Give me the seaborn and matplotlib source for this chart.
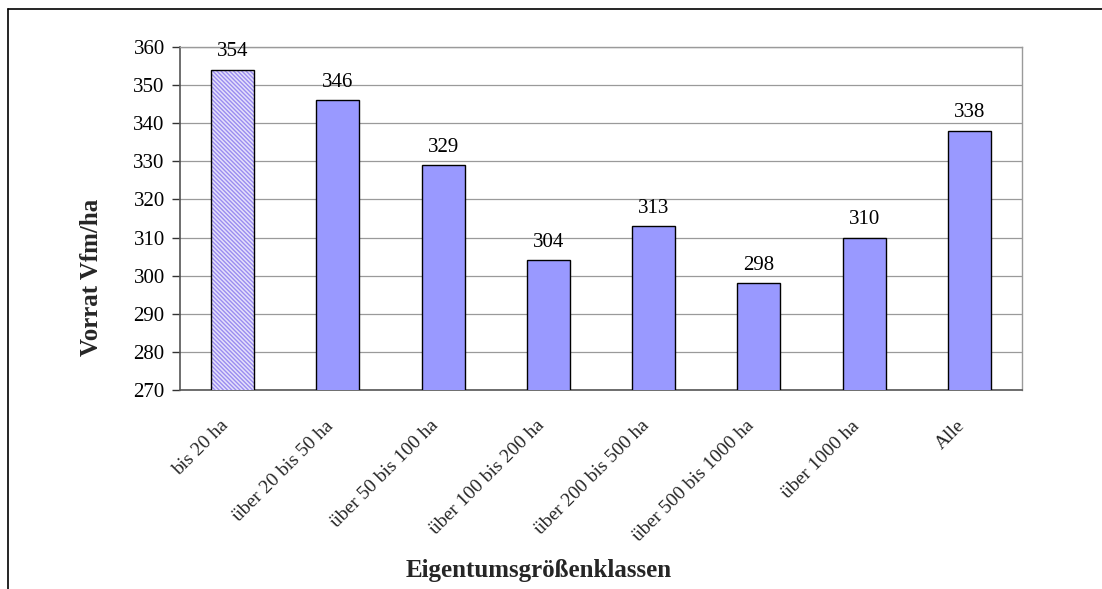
import matplotlib
matplotlib.use("Agg")
import matplotlib.pyplot as plt
import matplotlib.transforms as mtransforms
import seaborn as sns
import pandas as pd
from matplotlib.patches import Rectangle

categories = ["bis 20 ha", "über 20 bis 50 ha", "über 50 bis 100 ha", "über 100 bis 200 ha",
              "über 200 bis 500 ha", "über 500 bis 1000 ha", "über 1000 ha", "Alle"]
values = [354, 346, 329, 304, 313, 298, 310, 338]
yticks = [270, 280, 290, 300, 310, 320, 330, 340, 350, 360]

sns.set_theme(style="white")
plt.rcParams['font.family'] = ['Liberation Serif', 'DejaVu Serif']
plt.rcParams['hatch.linewidth'] = 1.0

df = pd.DataFrame({"cat": categories, "val": values})

fig = plt.figure(figsize=(11.02, 5.89), dpi=100)
ax = fig.add_axes([180/1102, 1-390/589, (1022-180)/1102, (390-47)/589])

sns.barplot(data=df, x="cat", y="val", color="#9999FF", saturation=1, width=0.41,
            edgecolor="black", linewidth=1.0, ax=ax, zorder=3)

ax.set_ylim(270, 360)
ax.set_yticks(yticks)
ax.yaxis.grid(True, color="#9a9a9a", linewidth=0.9)
ax.set_axisbelow(True)

# first bar hatched
p = ax.patches[0]
p.set_facecolor("#e4e0fb")
p.set_edgecolor("#9a8cf0")
p.set_hatch("\\\\\\\\\\\\\\\\")
p.set_linewidth(0)
ax.add_patch(Rectangle((p.get_x(), p.get_y()), p.get_width(), p.get_height(),
                       fill=False, edgecolor="black", linewidth=1.0, zorder=4))

for i, v in enumerate(values):
    ax.text(i, v + 2.2, str(v), ha="center", va="bottom", fontsize=15, color="black")

for s in ["top", "right"]:
    ax.spines[s].set_color("#9a9a9a")
    ax.spines[s].set_linewidth(1.0)
ax.spines["left"].set_color("#555555")
ax.spines["bottom"].set_color("#555555")
ax.spines["left"].set_linewidth(1.2)
ax.spines["bottom"].set_linewidth(1.2)

ax.tick_params(axis="y", which="both", left=True, length=6, width=1.0, color="#333333",
               labelsize=15, pad=5)
ax.tick_params(axis="x", bottom=False, labelsize=14, pad=18)
ax.set_xticks(range(len(categories)))
ax.set_xticklabels(categories, rotation=45, ha="right", va="center", rotation_mode="anchor")
shift = mtransforms.ScaledTranslation(-7/100, 0/100, fig.dpi_scale_trans)
for t in ax.get_xticklabels():
    t.set_transform(t.get_transform() + shift)
for t in ax.get_yticklabels():
    t.set_color("black")

ax.set_xlabel("Eigentumsgrößenklassen", fontsize=18, fontweight="bold")
ax.set_ylabel("Vorrat Vfm/ha", fontsize=18, fontweight="bold")
ax.xaxis.set_label_coords((539-180)/842, -(570-390)/343)
ax.xaxis.label.set_va("center")
ax.yaxis.set_label_coords(-(180-92)/842, (390-277)/343)
ax.yaxis.label.set_va("center")

# figure border (extends beyond right and bottom edges)
fig.add_artist(plt.Line2D([8/1102, 1.01], [1-9/589, 1-9/589], color="black", linewidth=1.2,
                          transform=fig.transFigure))
fig.add_artist(plt.Line2D([8/1102, 8/1102], [1-9/589, -0.01], color="black", linewidth=1.2,
                          transform=fig.transFigure))

fig.savefig("out.png", dpi=100)
